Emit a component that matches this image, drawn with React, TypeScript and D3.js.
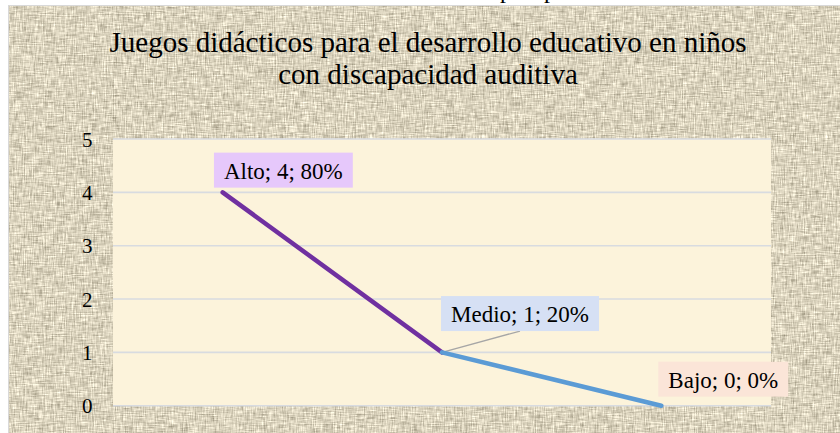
import React, { useEffect, useRef } from "react";
import * as d3 from "d3";

const categories = ["Alto", "Medio", "Bajo"];
const values = [4, 1, 0];
const percents = ["80%", "20%", "0%"];
const yTicks = [0, 1, 2, 3, 4, 5];
const titleLines = ["Juegos didácticos para el desarrollo educativo en niños", "con discapacidad auditiva"];
const segmentColors = ["#7030a0", "#5b9bd5"];
const labelFills = ["#e6c8fb", "#d6e0f4", "#fbe5d8"];
// label box offsets relative to point (styling)
const labelOffsets = [
  { dx: -8.7, dy: -39.7 },
  { dx: -1, dy: -56.3 },
  { dx: -3, dy: -44 },
];

const W = 840;
const H = 433;
const FONT = "'Liberation Serif', 'Times New Roman', serif";

export default function App() {
  const ref = useRef<SVGSVGElement>(null);

  useEffect(() => {
    const svg = d3.select(ref.current);
    svg.selectAll("*").remove();

    const defs = svg.append("defs");
    const f = defs
      .append("filter")
      .attr("id", "linen")
      .attr("x", 0)
      .attr("y", 0)
      .attr("width", "100%")
      .attr("height", "100%")
      .attr("color-interpolation-filters", "sRGB");
    f.append("feTurbulence")
      .attr("type", "fractalNoise")
      .attr("baseFrequency", "0.09 0.9")
      .attr("numOctaves", 2)
      .attr("seed", 3)
      .attr("result", "h");
    f.append("feTurbulence")
      .attr("type", "fractalNoise")
      .attr("baseFrequency", "0.9 0.09")
      .attr("numOctaves", 2)
      .attr("seed", 11)
      .attr("result", "v");
    f.append("feComposite")
      .attr("in", "h")
      .attr("in2", "v")
      .attr("operator", "arithmetic")
      .attr("k2", 0.5)
      .attr("k3", 0.5)
      .attr("result", "n");
    f.append("feColorMatrix")
      .attr("in", "n")
      .attr("type", "matrix")
      .attr(
        "values",
        "0.75 0 0 0 0.48  0.75 0 0 0 0.45  0.75 0 0 0 0.365  0 0 0 0 1"
      );

    // top white strip text remnants
    svg
      .append("text")
      .attr("x", 500)
      .attr("y", -2)
      .attr("font-family", FONT)
      .attr("font-size", 24)
      .attr("fill", "#000")
      .text("p");
    svg
      .append("text")
      .attr("x", 544)
      .attr("y", -2)
      .attr("font-family", FONT)
      .attr("font-size", 24)
      .attr("fill", "#000")
      .text("p");

    // chart background
    svg
      .append("rect")
      .attr("x", 8)
      .attr("y", 5)
      .attr("width", W - 8)
      .attr("height", H - 5)
      .attr("fill", "#d4cab2")
      .attr("filter", "url(#linen)");
    svg
      .append("rect")
      .attr("x", 8.5)
      .attr("y", 5.5)
      .attr("width", W - 8)
      .attr("height", H - 5)
      .attr("fill", "none")
      .attr("stroke", "#d9d9d9")
      .attr("stroke-width", 1);

    // title
    const title = svg
      .append("text")
      .attr("text-anchor", "middle")
      .attr("font-family", FONT)
      .attr("font-size", 29)
      .attr("fill", "#000");
    titleLines.forEach((t, i) => {
      title
        .append("tspan")
        .attr("x", 428)
        .attr("y", 52 + i * 32)
        .text(t);
    });

    const x0 = 113,
      x1 = 771,
      yTop = 139,
      yBot = 405.7;
    const x = d3.scalePoint<string>().domain(categories).range([x0, x1]).padding(0.5);
    const y = d3.scaleLinear().domain([0, 5]).range([yBot, yTop]);

    // plot area
    svg
      .append("rect")
      .attr("x", x0)
      .attr("y", yTop)
      .attr("width", x1 - x0)
      .attr("height", yBot - yTop)
      .attr("fill", "#fcf3db");

    // gridlines
    svg
      .append("g")
      .selectAll("line")
      .data(yTicks)
      .join("line")
      .attr("x1", x0)
      .attr("x2", x1)
      .attr("y1", (d) => y(d))
      .attr("y2", (d) => y(d))
      .attr("stroke", "#d8dbe0")
      .attr("stroke-width", 1.6);

    // y tick labels
    svg
      .append("g")
      .selectAll("text")
      .data(yTicks)
      .join("text")
      .attr("x", 92.5)
      .attr("y", (d) => y(d) + 7.5)
      .attr("text-anchor", "end")
      .attr("font-family", FONT)
      .attr("font-size", 21)
      .attr("fill", "#000")
      .text((d) => String(d));

    const pts = categories.map((c, i) => ({ c, v: values[i], px: x(c) as number, py: y(values[i]) }));

    const leaderIdx = 1;
    const lineGen = d3
      .line<{ px: number; py: number }>()
      .x((d) => d.px)
      .y((d) => d.py);
    for (let i = 0; i < pts.length - 1; i++) {
      svg
        .append("path")
        .attr("d", lineGen([pts[i], pts[i + 1]]) as string)
        .attr("fill", "none")
        .attr("stroke", segmentColors[i])
        .attr("stroke-width", 4.5)
        .attr("stroke-linecap", "round");
    }

    // labels
    const gLab = svg.append("g");
    pts.forEach((p, i) => {
      const g = gLab.append("g");
      const rect = g.append("rect").attr("fill", labelFills[i]);
      const txt = g
        .append("text")
        .attr("font-family", FONT)
        .attr("font-size", 23)
        .attr("fill", "#000")
        .text(`${p.c}; ${p.v}; ${percents[i]}`);
      const tw = (txt.node() as SVGTextElement).getComputedTextLength();
      const bw = tw + 20;
      const bh = 35;
      const bx = p.px + labelOffsets[i].dx;
      const by = p.py + labelOffsets[i].dy;
      rect.attr("x", bx).attr("y", by).attr("width", bw).attr("height", bh);
      txt.attr("x", bx + 10).attr("y", by + bh / 2 + 8.5);
      if (i === leaderIdx) {
        svg
          .insert("line", "path")
          .attr("x1", bx + bw / 2)
          .attr("y1", by + bh)
          .attr("x2", p.px)
          .attr("y2", p.py)
          .attr("stroke", "#a6a6a6")
          .attr("stroke-width", 1.3);
      }
    });
  }, []);

  return (
    <svg
      ref={ref}
      width={W}
      height={H}
      style={{ position: "absolute", left: 0, top: 0, background: "#fff" }}
    />
  );
}
